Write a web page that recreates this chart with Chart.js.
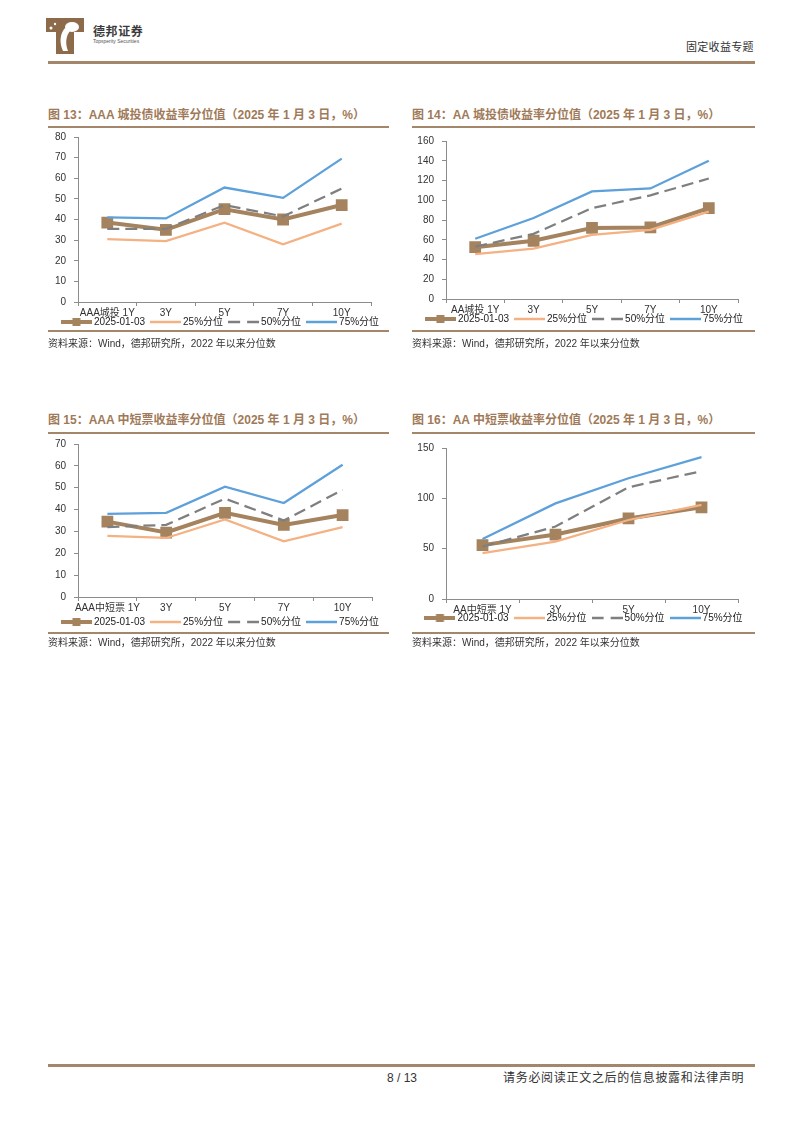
<!DOCTYPE html>
<html>
<head>
<meta charset="utf-8">
<script src="https://cdn.jsdelivr.net/npm/chart.js@4.4.1/dist/chart.umd.min.js"></script>
<style>
  html, body { margin: 0; padding: 0; background: #fff; }
  body { width: 802px; height: 1133px; position: relative; overflow: hidden;
         font-family: "Liberation Sans", "Noto Sans CJK SC", sans-serif; color: #333; }
  .txt { position: absolute; white-space: nowrap; }
  .rule { position: absolute; background: #A4876A; }
  .title { position: absolute; white-space: nowrap; font-size: 12px; line-height: 14px;
           font-weight: bold; color: #A07A58; }
  .src { position: absolute; white-space: nowrap; font-size: 10px; line-height: 12px; color: #333; }
  canvas { position: absolute; }
</style>
</head>
<body>

<!-- header -->
<svg style="position:absolute;left:46px;top:18px" width="38" height="36" viewBox="0 0 38 36">
  <path d="M0 0H38V14H28V36H10V14H0Z" fill="#8C6A4A"/>
  <ellipse cx="26" cy="9" rx="7" ry="5" fill="#fff"/>
  <path d="M19 10 C14 16 13 24 17 33 L22 33 C19 25 20 18 24 13 Z" fill="#fff"/>
  <circle cx="5" cy="10" r="1.5" fill="#fff"/>
  <circle cx="9" cy="6" r="1.2" fill="#fff"/>
</svg>
<div class="txt" style="left:93px;top:25px;font-size:12px;line-height:14px;font-weight:bold;color:#3a3a3a;letter-spacing:0.6px;">德邦证券</div>
<div class="txt" style="left:93px;top:38px;font-size:5px;line-height:6px;color:#555;">Topsperity Securities</div>
<div class="txt" style="left:686px;top:40px;font-size:11px;line-height:14px;color:#333;letter-spacing:0.3px;">固定收益专题</div>
<div class="rule" style="left:48px;top:61px;width:707px;height:2.5px;"></div>

<!-- chart 13 -->
<div class="title" style="left:48px;top:108px;">图 13：AAA 城投债收益率分位值（2025 年 1 月 3 日，%）</div>
<div class="rule" style="left:48px;top:126px;width:341px;height:2px;"></div>
<canvas id="c13" width="363" height="225" style="left:40px;top:123px;"></canvas>
<div class="rule" style="left:48px;top:330px;width:341px;height:2px;"></div>
<div class="src" style="left:48px;top:338px;">资料来源：Wind，德邦研究所，2022 年以来分位数</div>

<!-- chart 14 -->
<div class="title" style="left:412px;top:108px;">图 14：AA 城投债收益率分位值（2025 年 1 月 3 日，%）</div>
<div class="rule" style="left:412px;top:126px;width:343px;height:2px;"></div>
<canvas id="c14" width="361" height="218" style="left:405px;top:127px;"></canvas>
<div class="rule" style="left:412px;top:330px;width:343px;height:2px;"></div>
<div class="src" style="left:412px;top:338px;">资料来源：Wind，德邦研究所，2022 年以来分位数</div>

<!-- chart 15 -->
<div class="title" style="left:48px;top:413px;">图 15：AAA 中短票收益率分位值（2025 年 1 月 3 日，%）</div>
<div class="rule" style="left:48px;top:432px;width:341px;height:2px;"></div>
<canvas id="c15" width="363" height="213" style="left:40px;top:430px;"></canvas>
<div class="rule" style="left:48px;top:632px;width:341px;height:2px;"></div>
<div class="src" style="left:48px;top:637px;">资料来源：Wind，德邦研究所，2022 年以来分位数</div>

<!-- chart 16 -->
<div class="title" style="left:412px;top:413px;">图 16：AA 中短票收益率分位值（2025 年 1 月 3 日，%）</div>
<div class="rule" style="left:412px;top:432px;width:343px;height:2px;"></div>
<canvas id="c16" width="360" height="211" style="left:405px;top:434px;"></canvas>
<div class="rule" style="left:412px;top:632px;width:343px;height:2px;"></div>
<div class="src" style="left:412px;top:637px;">资料来源：Wind，德邦研究所，2022 年以来分位数</div>

<!-- footer -->
<div class="rule" style="left:48px;top:1064px;width:707px;height:2.5px;"></div>
<div class="txt" style="left:387px;top:1071px;font-size:12px;line-height:14px;color:#333;">8 / 13</div>
<div class="txt" style="left:503px;top:1071px;font-size:12px;line-height:14px;color:#333;letter-spacing:0.7px;">请务必阅读正文之后的信息披露和法律声明</div>

<script>
// series names (legend)
const seriesNames = ["2025-01-03", "25%分位", "50%分位", "75%分位"];

// 图13 AAA 城投
const cats13 = ["AAA城投 1Y", "3Y", "5Y", "7Y", "10Y"];
const now13 = [38.5, 35, 45, 40, 47];
const p25_13 = [30.5, 29.5, 38.5, 28, 38];
const p50_13 = [35.5, 35.5, 47, 41.5, 55];
const p75_13 = [41, 40.5, 55.5, 50.5, 69.5];

// 图14 AA 城投
const cats14 = ["AA城投 1Y", "3Y", "5Y", "7Y", "10Y"];
const now14 = [52.5, 59, 72, 72.5, 92];
const p25_14 = [45.5, 51, 65, 70, 88.5];
const p50_14 = [53, 66, 92, 105, 122];
const p75_14 = [61, 82, 109, 112, 140];

// 图15 AAA 中短票
const cats15 = ["AAA中短票 1Y", "3Y", "5Y", "7Y", "10Y"];
const now15 = [34.5, 29.5, 38.5, 33, 37.5];
const p25_15 = [28, 27, 35.5, 25.5, 32];
const p50_15 = [32, 33, 45, 35, 49];
const p75_15 = [38, 38.5, 50.5, 43, 60.5];

// 图16 AA 中短票
const cats16 = ["AA中短票 1Y", "3Y", "5Y", "10Y"];
const now16 = [53.5, 64, 80, 91];
const p25_16 = [45.5, 57, 78.5, 93.5];
const p50_16 = [52, 72, 111, 127];
const p75_16 = [59.5, 95, 120, 141];

const COLORS = ["#A4835E", "#F4B183", "#7F7F7F", "#5DA0DA"];
const AXIS = "#8C8C8C";
const FONT = '"Liberation Sans", "Noto Sans CJK SC", sans-serif';

// little canvases used as legend symbols (line, dashed line, line + square)
function legendIcon(i) {
  const c = document.createElement("canvas");
  c.width = 31; c.height = 10;
  const g = c.getContext("2d");
  g.strokeStyle = COLORS[i];
  g.lineWidth = i === 0 ? 4 : 2.5;
  if (i === 2) g.setLineDash([12, 7]);
  g.beginPath(); g.moveTo(0, 5); g.lineTo(31, 5); g.stroke();
  if (i === 0) { g.fillStyle = COLORS[0]; g.fillRect(11.5, 1, 8, 8); }
  return c;
}
const ICONS = [0, 1, 2, 3].map(legendIcon);

// pull the legend up so it sits right under the tick labels
const legendShift = {
  id: "legendShift",
  afterLayout(chart, args, opts) {
    const l = chart.legend;
    if (!l) return;
    l.top -= opts.dy;
    l.bottom -= opts.dy;
  }
};

function drawChart(id, cats, series, yMax, yStep, box) {
  new Chart(document.getElementById(id), {
    type: "line",
    data: {
      labels: cats,
      datasets: series.map((d, i) => ({
        label: seriesNames[i],
        data: d,
        borderColor: COLORS[i],
        backgroundColor: COLORS[i],
        borderWidth: i === 0 ? 4 : 2.25,
        borderDash: i === 2 ? [12, 6] : [],
        pointStyle: "rect",
        pointRadius: i === 0 ? 5.5 : 0,
        pointHoverRadius: i === 0 ? 5.5 : 0,
        tension: 0,
        order: 3 - i,
        yAxisID: "y"
      }))
    },
    plugins: [legendShift],
    options: {
      responsive: false,
      animation: false,
      devicePixelRatio: 1,
      layout: { padding: 0 },
      plugins: {
        tooltip: { enabled: false },
        legendShift: { dy: box.dy },
        legend: {
          position: "bottom",
          labels: {
            usePointStyle: true,
            pointStyleWidth: 25,
            padding: 8,
            color: "#222",
            font: { size: 10, family: FONT },
            sort: (a, b) => a.datasetIndex - b.datasetIndex,
            generateLabels: ch => Chart.defaults.plugins.legend.labels.generateLabels(ch)
              .map(l => ({ ...l, pointStyle: ICONS[l.datasetIndex] }))
          }
        }
      },
      scales: {
        x: {
          offset: true,
          grid: { offset: true, drawOnChartArea: false, drawTicks: true, tickLength: 4, color: AXIS },
          border: { color: AXIS },
          ticks: { color: "#333", font: { size: 10, family: FONT }, padding: 1, maxRotation: 0, autoSkip: false }
        },
        y: {
          min: 0,
          max: yMax,
          ticks: { stepSize: yStep, color: "#333", font: { size: 10, family: FONT }, padding: 8 },
          grid: { drawOnChartArea: false, tickLength: 4, color: AXIS },
          border: { color: AXIS },
          afterFit: s => { s.width = box.yw; }
        },
        yR: {
          position: "right",
          grid: { display: false },
          ticks: { display: false },
          border: { display: false },
          afterFit: s => { s.width = box.rw; }
        }
      }
    }
  });
}

drawChart("c13", cats13, [now13, p25_13, p50_13, p75_13], 80, 10, { yw: 38, rw: 32, dy: 11 });
drawChart("c14", cats14, [now14, p25_14, p50_14, p75_14], 160, 20, { yw: 41, rw: 28, dy: 11 });
drawChart("c15", cats15, [now15, p25_15, p50_15, p75_15], 70, 10, { yw: 38, rw: 31, dy: 6 });
drawChart("c16", cats16, [now16, p25_16, p50_16, p75_16], 150, 50, { yw: 41, rw: 27, dy: 12 });
</script>
</body>
</html>
